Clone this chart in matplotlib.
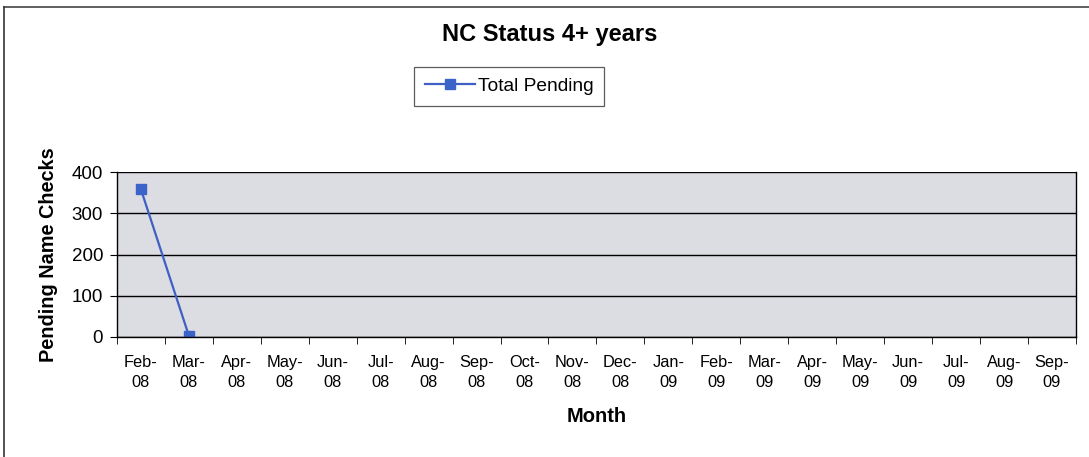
import matplotlib.pyplot as plt
from matplotlib.lines import Line2D

plt.rcParams['font.family'] = ['Liberation Sans', 'DejaVu Sans']

months = ['Feb-\n08', 'Mar-\n08', 'Apr-\n08', 'May-\n08', 'Jun-\n08', 'Jul-\n08',
          'Aug-\n08', 'Sep-\n08', 'Oct-\n08', 'Nov-\n08', 'Dec-\n08', 'Jan-\n09',
          'Feb-\n09', 'Mar-\n09', 'Apr-\n09', 'May-\n09', 'Jun-\n09', 'Jul-\n09',
          'Aug-\n09', 'Sep-\n09']
# only the first two months have counts
pending = [358, 3]

fig = plt.figure(figsize=(10.89, 4.57), dpi=100)
ax = fig.add_axes([0.1074, 0.2626, 0.8806, 0.361])
ax.set_facecolor('#dcdce3')

ax.plot(range(len(pending)), pending, color='#3f5fc4', linewidth=1.6,
        marker='s', markersize=7, markerfacecolor='#3a64c8',
        markeredgecolor='#3a64c8', label='Total Pending')

ax.set_xlim(-0.5, len(months) - 0.5)
ax.set_ylim(0, 400)
ax.set_yticks([0, 100, 200, 300, 400])
ax.set_xticks(range(len(months)))
ax.set_xticklabels(months, fontsize=11.8, linespacing=1.45)
ax.set_xticks([i - 0.5 for i in range(len(months) + 1)], minor=True)
ax.tick_params(axis='x', which='major', length=0, pad=13)
ax.tick_params(axis='x', which='minor', length=5, direction='out', color='black')
ax.tick_params(axis='y', labelsize=13.5, length=5, direction='out', pad=5)
ax.grid(axis='y', color='black', linewidth=1)
ax.set_axisbelow(True)
for s in ['left', 'bottom', 'right']:
    ax.spines[s].set_color('black')
    ax.spines[s].set_linewidth(1)
ax.spines['top'].set_visible(False)

ax.set_ylabel('Pending Name Checks', fontsize=14.3, fontweight='bold', labelpad=10)
ax.set_xlabel('Month', fontsize=14.5, fontweight='bold', labelpad=12)
fig.text(0.505, 0.925, 'NC Status 4+ years', ha='center', va='center',
         fontsize=17, fontweight='bold')

leg = fig.legend(loc='center', bbox_to_anchor=(0.4674, 0.811), fontsize=13.8,
                 frameon=True, fancybox=False, handlelength=2.6,
                 borderpad=0.55, handletextpad=0.15, borderaxespad=0)
leg.get_frame().set_edgecolor('#333333')
leg.get_frame().set_linewidth(0.9)

# outer frame lines
fig.add_artist(Line2D([0.004, 1.0], [0.985, 0.985], color='#444444', linewidth=1.2))
fig.add_artist(Line2D([0.004, 0.004], [0.0, 0.985], color='#333333', linewidth=1.2))

fig.savefig('out.png', dpi=100)
